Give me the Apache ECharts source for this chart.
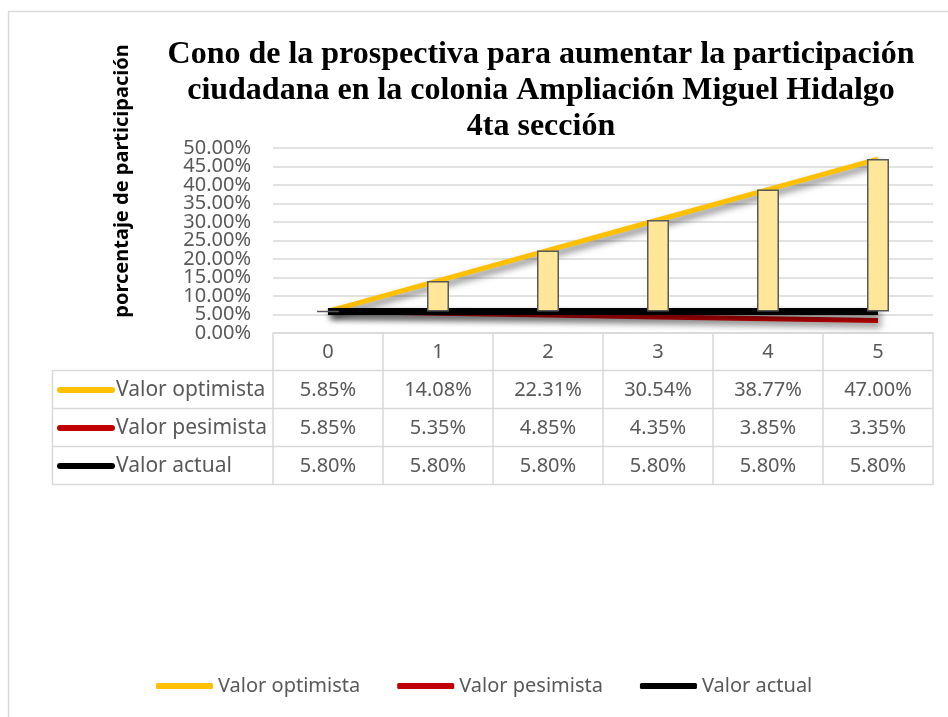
<!DOCTYPE html>
<html>
<head>
<meta charset="utf-8">
<script src="https://cdn.jsdelivr.net/npm/echarts@6/dist/echarts.min.js"></script>
<style>
  html, body { margin: 0; padding: 0; background: #fff; }
  #chart { width: 948px; height: 717px; }
</style>
</head>
<body>
<div id="chart"></div>
<script>
// data
const years = ['0', '1', '2', '3', '4', '5'];
const optimista = [5.85, 14.08, 22.31, 30.54, 38.77, 47.00];
const pesimista = [5.85, 5.35, 4.85, 4.35, 3.85, 3.35];
const actual = [5.80, 5.80, 5.80, 5.80, 5.80, 5.80];
const names = ['Valor optimista', 'Valor pesimista', 'Valor actual'];
const colors = ['#FFC000', '#C00000', '#000000'];
const titleText = 'Cono de la prospectiva para aumentar la participación\nciudadana en la colonia Ampliación Miguel Hidalgo\n4ta sección';
const yName = 'porcentaje de participación';

const grey = '#595959';
const border = '#d9d9d9';
const font = 'Noto Sans';

function pct(v){ return v.toFixed(2) + '%'; }

// up/down bars: invisible base at actual, visible part up to optimista
const upDown = optimista.map((v, i) => +(v - actual[i]).toFixed(2));

let myChart = echarts.init(document.getElementById('chart'));

const lineShadow = {
    shadowColor: 'rgba(0,0,0,0.55)',
    shadowBlur: 7,
    shadowOffsetX: 3,
    shadowOffsetY: 4
};

// table rows (lines + row headers)
const rowY = [390, 428, 466];
let tableGraphics = [];
[370.5, 408.5, 446.5, 484.5].forEach(y => {
    tableGraphics.push({
        type: 'line', shape: {x1: 52, y1: y, x2: 933, y2: y},
        style: {stroke: border, lineWidth: 1.5}
    });
});
tableGraphics.push({
    type: 'line', shape: {x1: 52.5, y1: 370, x2: 52.5, y2: 485},
    style: {stroke: border, lineWidth: 1.5}
});
names.forEach((n, i) => {
    tableGraphics.push({
        type: 'line', shape: {x1: 60, y1: rowY[i], x2: 112, y2: rowY[i]},
        style: {stroke: colors[i], lineWidth: 6, lineCap: 'round'}
    });
    tableGraphics.push({
        type: 'text', x: 116, y: rowY[i],
        style: {text: n, font: '21px "' + font + '"', fill: grey, textVerticalAlign: 'middle'}
    });
});

const yLabel = {
    margin: 22,
    fontFamily: font,
    fontSize: 20,
    color: grey,
    hideOverlap: false,
    formatter: pct
};

const option = {
    animation: false,
    grid: {left: 273, right: 15, top: 148, bottom: 384},
    legend: {
        data: names,
        left: 151,
        top: 671,
        itemGap: 37,
        itemWidth: 57,
        itemHeight: 6,
        icon: 'roundRect',
        textStyle: {fontFamily: font, fontSize: 20, color: grey}
    },
    xAxis: {
        type: 'category',
        data: years,
        boundaryGap: true,
        axisLine: {lineStyle: {color: border, width: 1.5}},
        axisTick: {show: true, length: 152, interval: 0, lineStyle: {color: border, width: 1.5}},
        axisLabel: {
            margin: 0,
            interval: 0,
            formatter: function(v, i){
                return '{h|' + v + '}\n{v|' + pct(optimista[i]) + '}\n{v|' + pct(pesimista[i]) + '}\n{v|' + pct(actual[i]) + '}';
            },
            rich: {
                h: {fontFamily: font, fontSize: 20, color: grey, lineHeight: 38, height: 38},
                v: {fontFamily: font, fontSize: 20, color: grey, lineHeight: 38, height: 38}
            }
        }
    },
    yAxis: [
        {
            // inner ticks 5% .. 45%
            type: 'value', min: 0, max: 50, interval: 5,
            axisLine: {show: false},
            axisTick: {show: false},
            splitLine: {lineStyle: {color: border, width: 1.5}},
            axisLabel: Object.assign({showMinLabel: false, showMaxLabel: false}, yLabel)
        },
        {
            // end ticks 0% and 50%
            type: 'value', min: 0, max: 50, interval: 50, position: 'left',
            axisLine: {show: false},
            axisTick: {show: false},
            splitLine: {show: false},
            axisLabel: yLabel
        }
    ],
    series: [
        {
            name: names[0], type: 'line', data: optimista, showSymbol: false, z: 2,
            color: colors[0],
            lineStyle: Object.assign({width: 5, color: colors[0]}, lineShadow)
        },
        {
            name: names[1], type: 'line', data: pesimista, showSymbol: false, z: 2,
            color: colors[1],
            lineStyle: Object.assign({width: 5, color: colors[1]}, lineShadow)
        },
        {
            name: names[2], type: 'line', data: actual, showSymbol: false, z: 2,
            color: colors[2],
            lineStyle: Object.assign({width: 7, color: colors[2]}, lineShadow)
        },
        {
            name: 'base', type: 'bar', stack: 'ud', data: actual, barWidth: 22, z: 3,
            itemStyle: {color: 'transparent'}, silent: true
        },
        {
            name: 'updown', type: 'bar', stack: 'ud', data: upDown, barWidth: 22, z: 3,
            itemStyle: {color: '#FFE699', borderColor: grey, borderWidth: 1.5}
        }
    ],
    graphic: [
        {
            type: 'rect', shape: {x: 8.5, y: 11.5, width: 1000, height: 1000},
            style: {fill: 'none', stroke: border, lineWidth: 1.5}, z: -1
        },
        {
            type: 'text', x: 541, y: 37,
            style: {
                text: titleText, font: 'bold 32px "Liberation Serif"', fill: '#000',
                textAlign: 'center', lineHeight: 36
            }
        },
        {
            type: 'text', x: 122, y: 181, rotation: Math.PI / 2,
            style: {
                text: yName, font: 'bold 20px "' + font + '"', fill: '#000',
                textAlign: 'center', textVerticalAlign: 'middle'
            }
        }
    ].concat(tableGraphics)
};
myChart.setOption(option);
</script>
</body>
</html>
